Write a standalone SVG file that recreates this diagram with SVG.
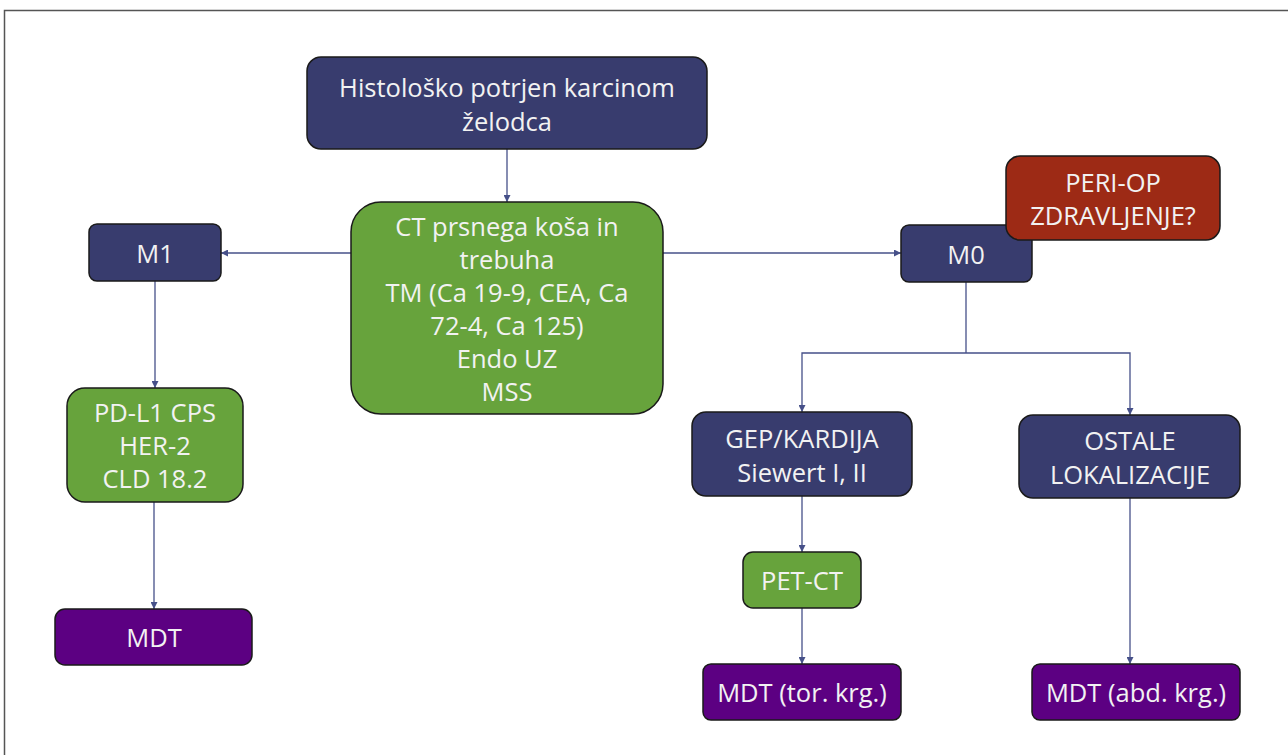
<svg xmlns="http://www.w3.org/2000/svg" width="1288" height="755" viewBox="0 0 1288 755">
<style>
.n{stroke:#1a1a1a;stroke-width:1.5}
.navy{fill:#383c6e}
.green{fill:#67a33c}
.red{fill:#9d2a15}
.purple{fill:#5c0082}
text{font-family:"Open Sans","Liberation Sans",sans-serif;font-size:25.5px;fill:#f2f2f2;text-anchor:middle;dominant-baseline:central}
.c{fill:none;stroke:#465089;stroke-width:1.3}
</style>
<defs>
<marker id="ah" viewBox="0 0 10 10" refX="10" refY="5" markerWidth="7" markerHeight="7" orient="auto" markerUnits="userSpaceOnUse">
<path d="M0,0 L10,5 L0,10 z" fill="#465089"/>
</marker>
</defs>
<rect width="1288" height="755" fill="#ffffff"/>
<path d="M4.5,755 V10.5 H1288" fill="none" stroke="#555" stroke-width="1.5"/>
<g id="connectors">
<path class="c" d="M507,149 V202" marker-end="url(#ah)"/>
<path class="c" d="M351,253 H221" marker-end="url(#ah)"/>
<path class="c" d="M663,253 H901" marker-end="url(#ah)"/>
<path class="c" d="M155,281 V388" marker-end="url(#ah)"/>
<path class="c" d="M154,502 V609" marker-end="url(#ah)"/>
<path class="c" d="M966,282 V353"/>
<path class="c" d="M966,353 H802 V412" marker-end="url(#ah)"/>
<path class="c" d="M966,353 H1130 V415" marker-end="url(#ah)"/>
<path class="c" d="M802,496 V552" marker-end="url(#ah)"/>
<path class="c" d="M802,608 V664" marker-end="url(#ah)"/>
<path class="c" d="M1130,498 V664" marker-end="url(#ah)"/>
</g>
<g id="n-top">
<rect class="n navy" x="307" y="57" width="400" height="92" rx="14"/>
<text x="507" y="87">Histološko potrjen karcinom</text>
<text x="507" y="121">želodca</text>
</g>
<g id="n-ct">
<rect class="n green" x="351" y="202" width="312" height="212" rx="30"/>
<text x="507" y="226">CT prsnega koša in</text>
<text x="507" y="259">trebuha</text>
<text x="507" y="292">TM (Ca 19-9, CEA, Ca</text>
<text x="507" y="325">72-4, Ca 125)</text>
<text x="507" y="358">Endo UZ</text>
<text x="507" y="391">MSS</text>
</g>
<g id="n-m1">
<rect class="n navy" x="89" y="224" width="132" height="57" rx="8"/>
<text x="155" y="253">M1</text>
</g>
<g id="n-pdl1">
<rect class="n green" x="67" y="388" width="176" height="114" rx="18"/>
<text x="155" y="412">PD-L1 CPS</text>
<text x="155" y="445">HER-2</text>
<text x="155" y="478">CLD 18.2</text>
</g>
<g id="n-mdt1">
<rect class="n purple" x="55" y="609" width="197" height="56" rx="10"/>
<text x="154" y="637">MDT</text>
</g>
<g id="n-m0">
<rect class="n navy" x="901" y="225" width="131" height="57" rx="8"/>
<text x="966" y="254">M0</text>
</g>
<g id="n-periop">
<rect class="n red" x="1006" y="156" width="214" height="84" rx="14"/>
<text x="1113" y="182">PERI-OP</text>
<text x="1113" y="215">ZDRAVLJENJE?</text>
</g>
<g id="n-gep">
<rect class="n navy" x="692" y="412" width="220" height="84" rx="14"/>
<text x="802" y="438">GEP/KARDIJA</text>
<text x="802" y="472">Siewert I, II</text>
</g>
<g id="n-ostale">
<rect class="n navy" x="1019" y="415" width="221" height="83" rx="14"/>
<text x="1130" y="440">OSTALE</text>
<text x="1130" y="474">LOKALIZACIJE</text>
</g>
<g id="n-petct">
<rect class="n green" x="743" y="552" width="118" height="56" rx="10"/>
<text x="802" y="580">PET-CT</text>
</g>
<g id="n-mdt-tor">
<rect class="n purple" x="703" y="664" width="198" height="56" rx="8"/>
<text x="802" y="692">MDT (tor. krg.)</text>
</g>
<g id="n-mdt-abd">
<rect class="n purple" x="1032" y="664" width="208" height="56" rx="8"/>
<text x="1136" y="692">MDT (abd. krg.)</text>
</g>
</svg>
